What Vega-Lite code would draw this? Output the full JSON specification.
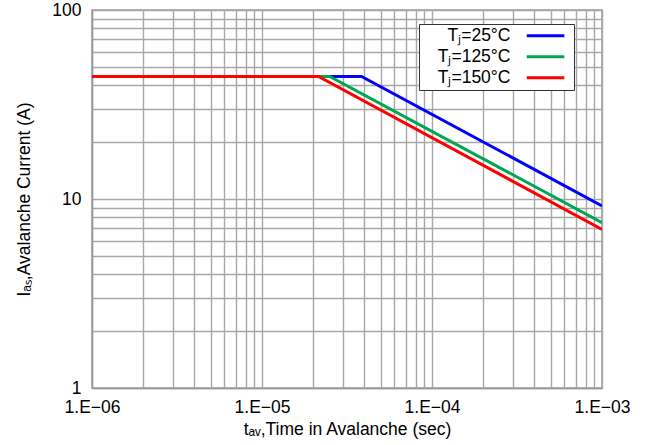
{
  "$schema": "https://vega.github.io/schema/vega-lite/v6.json",
  "width": 510,
  "height": 378,
  "autosize": {"type": "none"},
  "padding": {"left": 92, "top": 10, "right": 45, "bottom": 57},
  "background": "white",
  "config": {
    "view": {"stroke": "#9a9a9a", "strokeWidth": 1.5},
    "font": "Liberation Sans",
    "axis": {
      "labelFont": "Liberation Sans",
      "labelFontSize": 17.5,
      "labelColor": "#000",
      "titleFont": "Liberation Sans",
      "titleFontSize": 17.5,
      "titleFontWeight": "normal",
      "titleColor": "#000",
      "domainColor": "#9a9a9a",
      "domainWidth": 1.5,
      "gridColor": "#a8a8a8",
      "gridWidth": 1.4,
      "gridOpacity": 1,
      "ticks": false,
      "labelOverlap": false,
      "labelFlush": false
    }
  },
  "data": {
    "values": [
      {"series": "Tⱼ=25°C", "t": 1e-6, "i": 44.5},
      {"series": "Tⱼ=25°C", "t": 3.85e-5, "i": 44.5},
      {"series": "Tⱼ=25°C", "t": 1e-3, "i": 9.2},
      {"series": "Tⱼ=125°C", "t": 1e-6, "i": 44.5},
      {"series": "Tⱼ=125°C", "t": 2.5e-5, "i": 44.5},
      {"series": "Tⱼ=125°C", "t": 1e-3, "i": 7.5},
      {"series": "Tⱼ=150°C", "t": 1e-6, "i": 44.5},
      {"series": "Tⱼ=150°C", "t": 2.15e-5, "i": 44.5},
      {"series": "Tⱼ=150°C", "t": 1e-3, "i": 6.9}
    ]
  },
  "mark": {"type": "line", "strokeWidth": 3, "clip": true},
  "encoding": {
    "x": {
      "field": "t",
      "type": "quantitative",
      "scale": {"type": "log", "domain": [1e-6, 1e-3], "nice": false},
      "axis": {
        "title": "tₐᵥ,Time in Avalanche (sec)",
        "values": [1e-6, 2e-6, 3e-6, 4e-6, 5e-6, 6e-6, 7e-6, 8e-6, 9e-6, 1e-5, 2e-5, 3e-5, 4e-5, 5e-5, 6e-5, 7e-5, 8e-5, 9e-5, 1e-4, 2e-4, 3e-4, 4e-4, 5e-4, 6e-4, 7e-4, 8e-4, 9e-4, 1e-3],
        "labelExpr": "abs(log(datum.value)/LN10 - round(log(datum.value)/LN10)) < 0.001 ? '1.E−0' + (-round(log(datum.value)/LN10)) : ''",
        "labelPadding": 10,
        "titlePadding": 5
      }
    },
    "y": {
      "field": "i",
      "type": "quantitative",
      "scale": {"type": "log", "domain": [1, 100], "nice": false},
      "axis": {
        "title": "Iₐₛ,Avalanche Current (A)",
        "values": [1, 2, 3, 4, 5, 6, 7, 8, 9, 10, 20, 30, 40, 50, 60, 70, 80, 90, 100],
        "labelExpr": "(datum.value == 1 || datum.value == 10 || datum.value == 100) ? datum.value + '' : ''",
        "labelPadding": 11,
        "titlePadding": 18
      }
    },
    "color": {
      "field": "series",
      "type": "nominal",
      "sort": null,
      "scale": {"domain": ["Tⱼ=25°C", "Tⱼ=125°C", "Tⱼ=150°C"], "range": ["#0000ff", "#00a651", "#ff0000"]},
      "legend": {
        "title": null,
        "orient": "none",
        "legendX": 327,
        "legendY": 14,
        "symbolType": "M48,0H66.8",
        "symbolStrokeWidth": 3,
        "symbolSize": 16,
        "labelAlign": "right",
        "labelOffset": 71,
        "labelFont": "Liberation Sans",
        "labelFontSize": 17.5,
        "labelColor": "#000",
        "rowPadding": 2,
        "strokeColor": "#333",
        "fillColor": "white",
        "padding": 3
      }
    }
  }
}
